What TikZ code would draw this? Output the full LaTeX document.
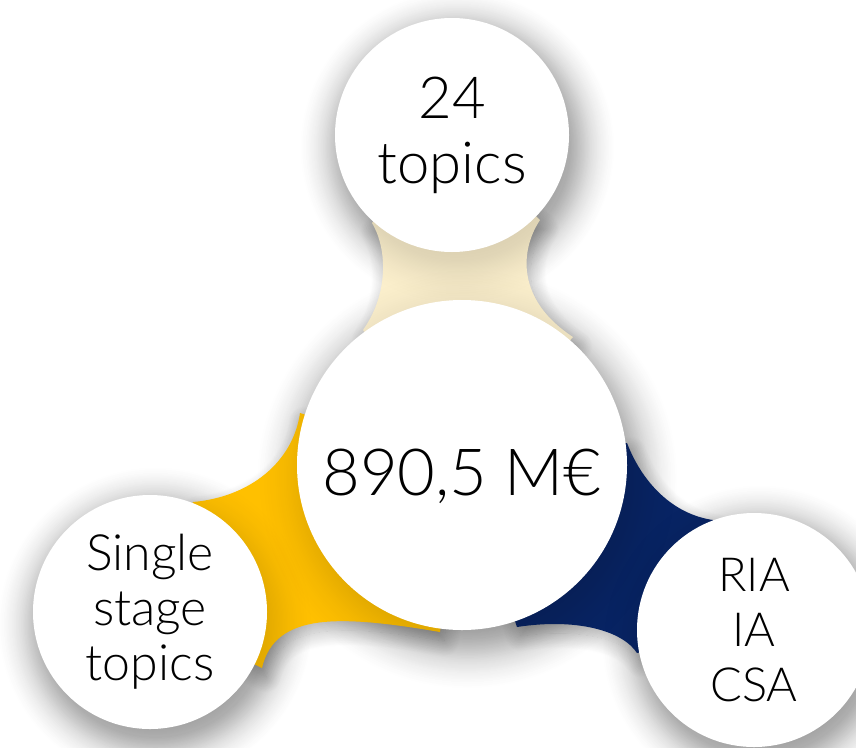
\documentclass[tikz,border=0pt]{standalone}
\usepackage{fontspec}
\setmainfont{Lato}[UprightFont={* Light}]
\usetikzlibrary{shadows.blur,fadings}
\definecolor{cream}{HTML}{FBEFCC}
\definecolor{gold}{HTML}{FFC000}
\definecolor{navy}{HTML}{082464}
\pgfdeclareradialshading{shsmall}{\pgfpointorigin}{color(0bp)=(pgftransparent!0); color(16bp)=(pgftransparent!0);
  color(18bp)=(pgftransparent!15); color(19.5bp)=(pgftransparent!40); color(21bp)=(pgftransparent!65);
  color(22.5bp)=(pgftransparent!83); color(24bp)=(pgftransparent!95); color(25bp)=(pgftransparent!100);
  color(50bp)=(pgftransparent!100)}
\pgfdeclarefading{fadesmall}{\pgfuseshading{shsmall}}
\pgfdeclareradialshading{shbig}{\pgfpointorigin}{color(0bp)=(pgftransparent!0); color(18bp)=(pgftransparent!0);
  color(19bp)=(pgftransparent!15); color(20.25bp)=(pgftransparent!40); color(21.5bp)=(pgftransparent!65);
  color(23bp)=(pgftransparent!85); color(24.25bp)=(pgftransparent!96); color(25bp)=(pgftransparent!100);
  color(50bp)=(pgftransparent!100)}
\pgfdeclarefading{fadebig}{\pgfuseshading{shbig}}
\begin{document}
\begin{tikzpicture}[x=1pt,y=-1pt,
  shade/.style={blur shadow={shadow xshift=4pt, shadow yshift=-9pt, shadow blur radius=16pt, shadow opacity=30, shadow blur steps=24}},
  softshadow/.style={fill=black, opacity=#1},
  bubble/.style={circle, fill=white, minimum size=#1, inner sep=0pt, align=center},
  bridge/.style={fill=#1, shade}]
\useasboundingbox (0,0) rectangle (856,747);
% centres of circles (positions only)
\coordinate (ctop) at (452,135);
\coordinate (cmid) at (462,465);
\coordinate (cbl) at (150,612);
\coordinate (cbr) at (754,630);
% soft shadows of the circles on the background
\fill[softshadow=0.28, path fading=fadesmall] ([shift={(5,12)}]ctop) circle (157);
\fill[softshadow=0.28, path fading=fadesmall] ([shift={(5,12)}]cbl) circle (157);
\fill[softshadow=0.28, path fading=fadesmall] ([shift={(5,12)}]cbr) circle (157);
\fill[softshadow=0.28, path fading=fadebig] ([shift={(5,13)}]cmid) circle (210);
% connectors
\fill[bridge=cream] (ctop) -- (372,223) .. controls (388,250) and (388,295) .. (363,330) -- (cmid)
   -- (573,337) .. controls (516,300) and (520,250) .. (540,220) -- cycle;
\fill[bridge=gold] (cbl) -- (193,502) .. controls (250,497) and (293,462) .. (300,413) -- (cmid)
   -- (440,632) .. controls (340,615) and (275,612) .. (262,668) -- cycle;
\fill[bridge=navy] (cmid) -- (627,443) .. controls (642,482) and (672,514) .. (713,520) -- (cbr)
   -- (637,653) .. controls (622,630) and (575,618) .. (517,627) -- cycle;
% faint shadows of the circles on the connectors
\fill[softshadow=0.12, path fading=fadesmall] ([shift={(5,12)}]ctop) circle (157);
\fill[softshadow=0.12, path fading=fadesmall] ([shift={(5,12)}]cbl) circle (157);
\fill[softshadow=0.12, path fading=fadesmall] ([shift={(5,12)}]cbr) circle (157);
\fill[softshadow=0.12, path fading=fadebig] ([shift={(5,13)}]cmid) circle (210);
% circles
\node[bubble=234pt, font=\fontsize{58}{65}\selectfont] (top) at (ctop) {24\\topics};
\node[bubble=234pt, font=\fontsize{50}{55}\selectfont] (bl) at (cbl) {Single\\stage\\topics};
\node[bubble=234pt, font=\fontsize{47}{55}\selectfont] (br) at (cbr) {RIA\\IA\\CSA};
\node[bubble=330pt, font=\fontsize{65}{70}\selectfont, text height=60pt, text depth=0pt] (mid) at (cmid) {890,5 M€};
\end{tikzpicture}
\end{document}
